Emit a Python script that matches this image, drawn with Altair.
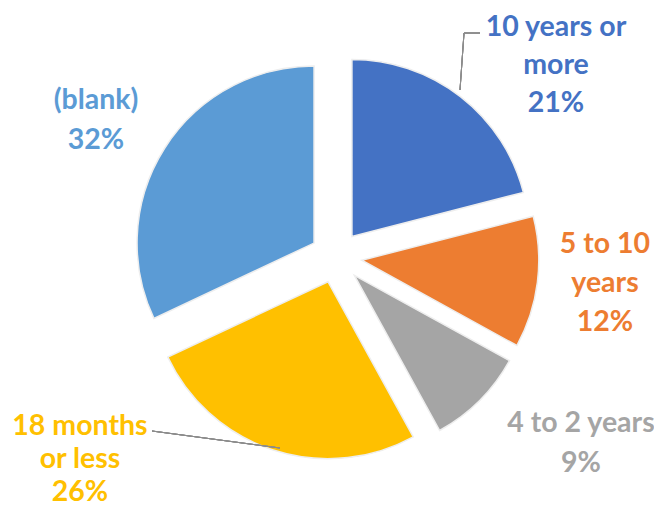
import altair as alt
import pandas as pd

categories = ["10 years or more", "5 to 10 years", "4 to 2 years", "18 months or less", "(blank)"]
shares = [21, 12, 9, 26, 32]
label_lines = [["10 years or", "more"], ["5 to 10", "years"], ["4 to 2 years"], ["18 months", "or less"], ["(blank)"]]
colors = ["#4472C4", "#ED7D31", "#A5A5A5", "#FFC000", "#5B9BD5"]

df = pd.DataFrame({
    "category": categories,
    "share": shares,
    "order": list(range(len(categories))),
    "label": ["\n".join(l) for l in label_lines],
})

CX, CY, R, EXPLODE = 328, 249, 177, 26

color_scale = alt.Scale(domain=categories, range=colors)

base = (
    alt.Chart(df)
    .transform_window(cum="sum(share)", sort=[alt.SortField("order")])
    .transform_joinaggregate(total="sum(share)")
    .transform_calculate(
        t0="(datum.cum - datum.share) / datum.total * 2 * PI",
        t1="datum.cum / datum.total * 2 * PI",
    )
    .transform_calculate(mid="(datum.t0 + datum.t1) / 2")
    .transform_calculate(
        cx=f"{CX} + {EXPLODE} * sin(datum.mid)",
        cy=f"{CY} - {EXPLODE} * cos(datum.mid)",
        text="datum.label + '\\n' + datum.share + '%'",
    )
)

arcs = base.mark_arc(radius=R, stroke="#eeeeee", strokeWidth=1.5).encode(
    x=alt.X("cx:Q", scale=None, axis=None),
    y=alt.Y("cy:Q", scale=None, axis=None),
    theta=alt.Theta("t0:Q", scale=None),
    theta2="t1:Q",
    color=alt.Color("category:N", scale=color_scale, legend=None),
)

# first-line centre of each label block, and its line spacing
label_pos = {
    "10 years or more": (548, 19, 38),
    "5 to 10 years": (597, 236, 39),
    "4 to 2 years": (573, 415, 40),
    "18 months or less": (72, 418, 33),
    "(blank)": (88, 92, 40),
}

label_layers = []
for cat in categories:
    lx, ly, lh = label_pos[cat]
    label_layers.append(
        base.transform_filter(alt.datum.category == cat)
        .mark_text(font="Lato", fontSize=28.5, fontWeight="bold", lineBreak="\n",
                   lineHeight=lh, align="center", baseline="middle")
        .encode(
            x=alt.value(lx), y=alt.value(ly), text="text:N",
            color=alt.Color("category:N", scale=color_scale, legend=None),
        )
    )

leader = dict(color="#8C8C8C", strokeWidth=1)
rules = [
    base.mark_rule(**leader).encode(x=alt.value(456), x2=alt.value(472), y=alt.value(25), y2=alt.value(25)),
    base.mark_rule(**leader).encode(x=alt.value(456), x2=alt.value(452), y=alt.value(25), y2=alt.value(82)),
    base.mark_rule(**leader).encode(x=alt.value(144), x2=alt.value(272), y=alt.value(423), y2=alt.value(440)),
]

chart = alt.layer(arcs, *rules, *label_layers).properties(
    width=646, height=502, padding=0, autosize=alt.AutoSizeParams(type="none")
).configure_view(stroke=None)

chart.save("out.html", embed_options={"renderer": "svg", "actions": False})
